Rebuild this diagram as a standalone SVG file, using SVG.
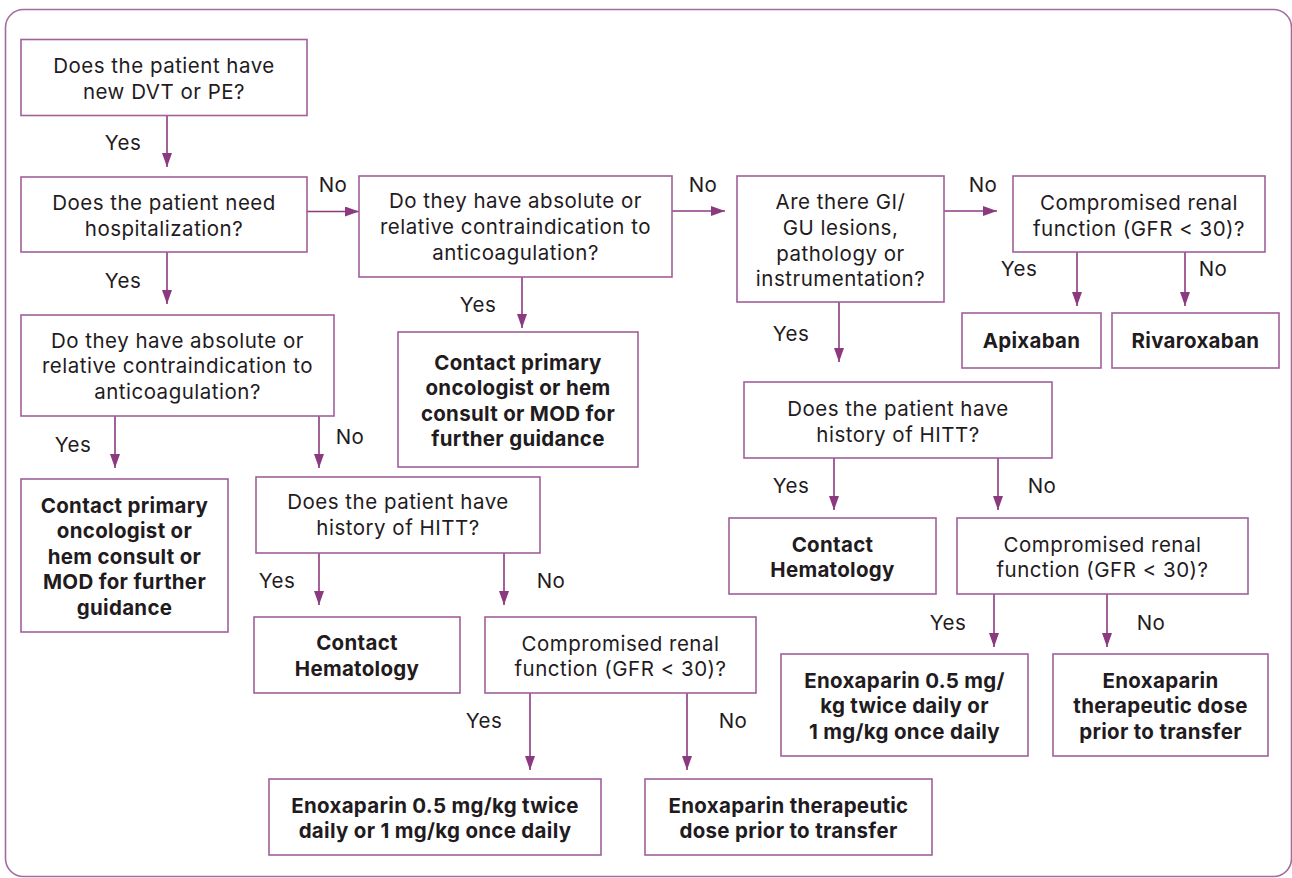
<svg xmlns="http://www.w3.org/2000/svg" width="1292" height="878" viewBox="0 0 1292 878">
<style>
.frame{fill:none;stroke:#a56a9e;stroke-width:1.6}
.box{fill:#fff;stroke:#a0609a;stroke-width:1.6}
.t{font-family:Inter,"Open Sans","Liberation Sans",sans-serif;font-size:20.5px;fill:#1f1b1e;text-anchor:middle;letter-spacing:0.5px}
.b{font-weight:700;letter-spacing:0.3px}
.lbl{font-family:Inter,"Open Sans","Liberation Sans",sans-serif;font-size:20.5px;fill:#1f1b1e;text-anchor:middle;letter-spacing:0.5px}
.c{fill:none;stroke:#8c3a80;stroke-width:1.6;marker-end:url(#ah)}
</style>
<defs>
<marker id="ah" markerUnits="userSpaceOnUse" viewBox="0 0 14 10" markerWidth="14" markerHeight="10" refX="14" refY="5" orient="auto">
<path d="M0,0 L14,5 L0,10 z" fill="#8c3a80"/>
</marker>
</defs>
<rect class="frame" x="5.5" y="9.5" width="1286" height="867" rx="18"/>

<g id="connectors">
<line class="c" x1="167" y1="116" x2="167" y2="167"/>
<line class="c" x1="167" y1="252" x2="167" y2="304"/>
<line class="c" x1="307" y1="211.5" x2="359" y2="211.5"/>
<line class="c" x1="672" y1="211" x2="725" y2="211"/>
<line class="c" x1="944" y1="211" x2="997" y2="211"/>
<line class="c" x1="1077" y1="252" x2="1077" y2="306"/>
<line class="c" x1="1185" y1="252" x2="1185" y2="306"/>
<line class="c" x1="522" y1="277" x2="522" y2="328"/>
<line class="c" x1="839" y1="302" x2="839" y2="362"/>
<line class="c" x1="115" y1="416" x2="115" y2="468"/>
<line class="c" x1="319" y1="416" x2="319" y2="468"/>
<line class="c" x1="319" y1="553" x2="319" y2="605"/>
<line class="c" x1="504" y1="553" x2="504" y2="605"/>
<line class="c" x1="530" y1="693" x2="530" y2="770"/>
<line class="c" x1="687" y1="693" x2="687" y2="770"/>
<line class="c" x1="834" y1="458" x2="834" y2="510"/>
<line class="c" x1="998" y1="458" x2="998" y2="510"/>
<line class="c" x1="994" y1="594" x2="994" y2="647"/>
<line class="c" x1="1107" y1="594" x2="1107" y2="647"/>
</g>

<g id="labels">
<text class="lbl" x="123" y="150">Yes</text>
<text class="lbl" x="123" y="288">Yes</text>
<text class="lbl" x="333" y="192">No</text>
<text class="lbl" x="703" y="192">No</text>
<text class="lbl" x="983" y="192">No</text>
<text class="lbl" x="1019" y="276">Yes</text>
<text class="lbl" x="1213" y="276">No</text>
<text class="lbl" x="478" y="312">Yes</text>
<text class="lbl" x="791" y="341">Yes</text>
<text class="lbl" x="73" y="452">Yes</text>
<text class="lbl" x="350" y="444">No</text>
<text class="lbl" x="277" y="588">Yes</text>
<text class="lbl" x="551" y="588">No</text>
<text class="lbl" x="484" y="728">Yes</text>
<text class="lbl" x="733" y="728">No</text>
<text class="lbl" x="791" y="493">Yes</text>
<text class="lbl" x="1042" y="493">No</text>
<text class="lbl" x="948" y="630">Yes</text>
<text class="lbl" x="1151" y="630">No</text>
</g>

<g id="n1"><rect class="box" x="21" y="39.5" width="286" height="76"/>
<text class="t" x="164" y="73">Does the patient have</text>
<text class="t" x="164" y="99">new DVT or PE?</text></g>

<g id="n2"><rect class="box" x="21" y="177" width="286" height="75"/>
<text class="t" x="164" y="210">Does the patient need</text>
<text class="t" x="164" y="236">hospitalization?</text></g>

<g id="n3"><rect class="box" x="359" y="176" width="313" height="101"/>
<text class="t" x="515.5" y="208">Do they have absolute or</text>
<text class="t" x="515.5" y="234">relative contraindication to</text>
<text class="t" x="515.5" y="260">anticoagulation?</text></g>

<g id="n4"><rect class="box" x="737" y="176" width="207" height="126"/>
<text class="t" x="840.5" y="209.3">Are there GI/</text>
<text class="t" x="840.5" y="235">GU lesions,</text>
<text class="t" x="840.5" y="260.7">pathology or</text>
<text class="t" x="840.5" y="286.3">instrumentation?</text></g>

<g id="n5"><rect class="box" x="1013" y="176" width="252" height="76"/>
<text class="t" x="1139" y="210.3">Compromised renal</text>
<text class="t" x="1139" y="236.3">function (GFR &lt; 30)?</text></g>

<g id="n6"><rect class="box" x="962" y="313" width="139" height="55"/>
<text class="t b" x="1031.5" y="348">Apixaban</text></g>

<g id="n7"><rect class="box" x="1112" y="313" width="167" height="55"/>
<text class="t b" x="1195.5" y="348">Rivaroxaban</text></g>

<g id="n8"><rect class="box" x="21" y="315" width="313" height="101"/>
<text class="t" x="177.5" y="347.5">Do they have absolute or</text>
<text class="t" x="177.5" y="373">relative contraindication to</text>
<text class="t" x="177.5" y="398.5">anticoagulation?</text></g>

<g id="n9"><rect class="box" x="21" y="479" width="207" height="153"/>
<text class="t b" x="124.5" y="512.5">Contact primary</text>
<text class="t b" x="124.5" y="538">oncologist or</text>
<text class="t b" x="124.5" y="563.5">hem consult or</text>
<text class="t b" x="124.5" y="589">MOD for further</text>
<text class="t b" x="124.5" y="614.5">guidance</text></g>

<g id="n10"><rect class="box" x="398" y="332" width="240" height="135"/>
<text class="t b" x="518" y="369.5">Contact primary</text>
<text class="t b" x="518" y="395">oncologist or hem</text>
<text class="t b" x="518" y="420.5">consult or MOD for</text>
<text class="t b" x="518" y="446">further guidance</text></g>

<g id="n11"><rect class="box" x="256" y="477" width="284" height="76"/>
<text class="t" x="398" y="509.3">Does the patient have</text>
<text class="t" x="398" y="535.3">history of HITT?</text></g>

<g id="n12"><rect class="box" x="254" y="617" width="206" height="76"/>
<text class="t b" x="357" y="650.3">Contact</text>
<text class="t b" x="357" y="676.3">Hematology</text></g>

<g id="n13"><rect class="box" x="485" y="617" width="271" height="76"/>
<text class="t" x="620.5" y="650.5">Compromised renal</text>
<text class="t" x="620.5" y="676">function (GFR &lt; 30)?</text></g>

<g id="n14"><rect class="box" x="269" y="779" width="332" height="76"/>
<text class="t b" x="435" y="812.5">Enoxaparin 0.5 mg/kg twice</text>
<text class="t b" x="435" y="838">daily or 1 mg/kg once daily</text></g>

<g id="n15"><rect class="box" x="645" y="779" width="287" height="76"/>
<text class="t b" x="788.5" y="812.5">Enoxaparin therapeutic</text>
<text class="t b" x="788.5" y="838">dose prior to transfer</text></g>

<g id="n16"><rect class="box" x="744" y="382" width="308" height="76"/>
<text class="t" x="898" y="416">Does the patient have</text>
<text class="t" x="898" y="442">history of HITT?</text></g>

<g id="n17"><rect class="box" x="729" y="518" width="207" height="76"/>
<text class="t b" x="832.5" y="551.5">Contact</text>
<text class="t b" x="832.5" y="577">Hematology</text></g>

<g id="n18"><rect class="box" x="957" y="518" width="291" height="76"/>
<text class="t" x="1102.5" y="551.5">Compromised renal</text>
<text class="t" x="1102.5" y="577">function (GFR &lt; 30)?</text></g>

<g id="n19"><rect class="box" x="781" y="654" width="247" height="102"/>
<text class="t b" x="904.5" y="687.5">Enoxaparin 0.5 mg/</text>
<text class="t b" x="904.5" y="713.2">kg twice daily or</text>
<text class="t b" x="904.5" y="739">1 mg/kg once daily</text></g>

<g id="n20"><rect class="box" x="1053" y="654" width="215" height="102"/>
<text class="t b" x="1160.5" y="687.5">Enoxaparin</text>
<text class="t b" x="1160.5" y="713.2">therapeutic dose</text>
<text class="t b" x="1160.5" y="739">prior to transfer</text></g>
</svg>
